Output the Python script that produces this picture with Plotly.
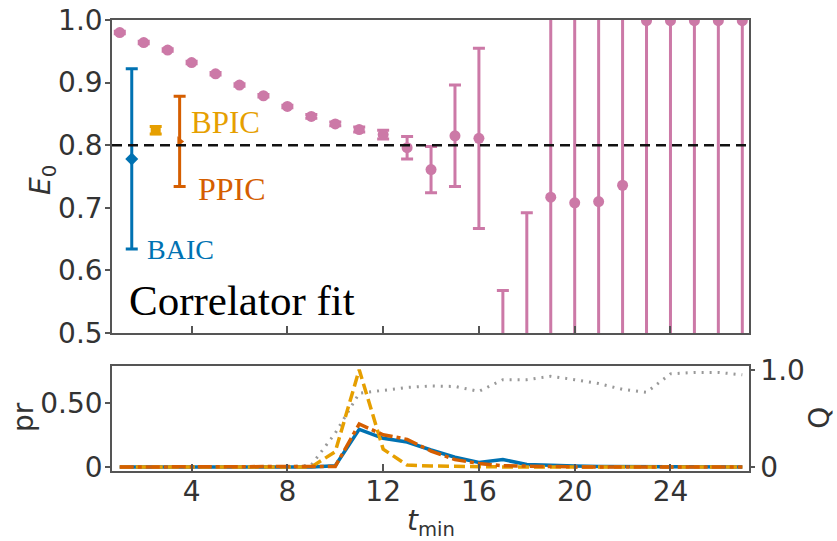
import plotly.graph_objects as go

# ---------------- data ----------------
t_min = list(range(1, 28))
E_corr = [0.980, 0.964, 0.952, 0.932, 0.914, 0.896, 0.879, 0.862, 0.846, 0.834,
          0.825, 0.817, 0.796, 0.761, 0.815, 0.811, 0.400, 0.450, 0.717, 0.708,
          0.710, 0.736, 0.999, 0.999, 0.999, 0.999, 0.999]
E_corr_err = [0.002, 0.002, 0.002, 0.002, 0.002, 0.002, 0.002, 0.002, 0.003, 0.003,
              0.004, 0.007, 0.018, 0.037, 0.081, 0.144, 0.168, 0.242, 0.600, 0.600,
              0.600, 0.600, 0.600, 0.600, 0.600, 0.600, 0.600]

avg_labels = ["BAIC", "BPIC", "PPIC"]
avg_x = [1.5, 2.5, 3.5]
avg_E = [0.778, 0.824, 0.806]
avg_err = [0.144, 0.006, 0.072]

E_true = 0.8

pr_BAIC = [0, 0, 0, 0, 0, 0, 0, 0, 0, 0.010, 0.294, 0.224, 0.195, 0.133, 0.076, 0.035,
           0.058, 0.020, 0.012, 0.008, 0.005, 0.004, 0.003, 0.002, 0.002, 0.001, 0.001]
pr_BPIC = [0, 0, 0, 0, 0, 0, 0, 0, 0, 0.120, 0.760, 0.140, 0.015, 0.008, 0.004, 0.002,
           0.001, 0, 0, 0, 0, 0, 0, 0, 0, 0, 0]
pr_PPIC = [0, 0, 0, 0, 0, 0, 0, 0, 0, 0.005, 0.336, 0.252, 0.216, 0.125, 0.058, 0.028,
           0.010, 0.005, 0.002, 0.001, 0, 0, 0, 0, 0, 0, 0]
Q_vals = [0, 0, 0, 0, 0, 0, 0, 0, 0.02, 0.35, 0.76, 0.79, 0.82, 0.835, 0.83, 0.78,
          0.90, 0.90, 0.935, 0.90, 0.86, 0.80, 0.77, 0.96, 0.975, 0.975, 0.95]

x_ticks = [4, 8, 12, 16, 20, 24]
E_ticks = [0.5, 0.6, 0.7, 0.8, 0.9, 1.0]
pr_ticks = [0, 0.5]
pr_ticktext = ["0", "0.50"]
Q_ticks = [0, 1]
Q_ticktext = ["0", "1.0"]

# ---------------- style ----------------
PINK = "#CC79A7"
BLUE = "#0072B2"
GOLD = "#E69F00"
RED = "#D55E00"
GRAY = "#999999"
AX = "#555555"
TXT = "#333333"
tickfont = dict(family="DejaVu Sans", size=28, color=TXT)
titlefont = dict(family="DejaVu Sans", size=28, color=TXT)
avg_colors = [BLUE, GOLD, RED]
avg_symbols = ["diamond", "square", "triangle-right"]

fig = go.Figure()

# correlator fits
fig.add_trace(go.Scatter(
    x=t_min, y=E_corr, mode="markers",
    marker=dict(color=PINK, size=11, symbol="circle"),
    error_y=dict(type="data", array=E_corr_err, color=PINK, thickness=3, width=6),
    xaxis="x", yaxis="y", showlegend=False))

# model averages
for lab, xx, yy, ee, cc, sym in zip(avg_labels, avg_x, avg_E, avg_err, avg_colors, avg_symbols):
    fig.add_trace(go.Scatter(
        x=[xx], y=[yy], mode="markers", name=lab,
        marker=dict(color=cc, size=10 if sym != "triangle-right" else 9, symbol=sym),
        error_y=dict(type="data", array=[ee], color=cc, thickness=3, width=6),
        xaxis="x", yaxis="y", showlegend=False))

# bottom panel: Q on base axis (right), pr on overlaying axis (left)
fig.add_trace(go.Scatter(x=t_min, y=Q_vals, mode="lines",
                         line=dict(color=GRAY, width=3, dash="2px,6px"),
                         xaxis="x2", yaxis="y2", showlegend=False))
fig.add_trace(go.Scatter(x=t_min, y=pr_BAIC, mode="lines",
                         line=dict(color=BLUE, width=3.5),
                         xaxis="x2", yaxis="y3", showlegend=False))
fig.add_trace(go.Scatter(x=t_min, y=pr_BPIC, mode="lines",
                         line=dict(color=GOLD, width=3.5, dash="11px,5px"),
                         xaxis="x2", yaxis="y3", showlegend=False))
fig.add_trace(go.Scatter(x=t_min, y=pr_PPIC, mode="lines",
                         line=dict(color=RED, width=3.5, dash="14px,4px,4px,4px"),
                         xaxis="x2", yaxis="y3", showlegend=False))

# true energy reference line
fig.add_shape(type="line", xref="x domain", yref="y", x0=0, x1=1, y0=E_true, y1=E_true,
              line=dict(color="#111111", width=2.5, dash="10px,6px"), layer="above")

# labels
ann_font = dict(family="Liberation Serif", size=31)
fig.add_annotation(x=3.90, y=0.836, xref="x", yref="y", text="BPIC", showarrow=False,
                   xanchor="left", yanchor="middle", font=dict(**ann_font, color=GOLD))
fig.add_annotation(x=4.20, y=0.730, xref="x", yref="y", text="PPIC", showarrow=False,
                   xanchor="left", yanchor="middle",
                   font=dict(family="Liberation Serif", size=32, color=RED))
fig.add_annotation(x=2.05, y=0.633, xref="x", yref="y", text="BAIC", showarrow=False,
                   xanchor="left", yanchor="middle",
                   font=dict(family="Liberation Serif", size=28, color=BLUE))
fig.add_annotation(x=1.30, y=0.552, xref="x", yref="y", text="Correlator fit", showarrow=False,
                   xanchor="left", yanchor="middle",
                   font=dict(family="Liberation Serif", size=43, color="black"))

# axis titles
fig.add_annotation(x=-0.110, y=0.645, xref="paper", yref="paper",
                   text="<i>E</i><sub>0</sub>", showarrow=False, textangle=-90,
                   xanchor="center", yanchor="middle", font=titlefont)
fig.add_annotation(x=-0.138, y=0.120, xref="paper", yref="paper",
                   text="pr", showarrow=False, textangle=-90,
                   xanchor="center", yanchor="middle", font=titlefont)
fig.add_annotation(x=1.1115, y=0.118, xref="paper", yref="paper",
                   text="Q", showarrow=False, textangle=-90,
                   xanchor="center", yanchor="middle", font=titlefont)
fig.add_annotation(x=0.5, y=-0.115, xref="paper", yref="paper",
                   text="<i>t</i><sub>min</sub>", showarrow=False,
                   xanchor="center", yanchor="middle", font=titlefont)

x_range = [0.675, 27.28]
common_axis = dict(showline=True, linecolor=AX, linewidth=1.5, showgrid=False,
                   zeroline=False, tickcolor=AX, tickwidth=1.5, tickfont=tickfont,
                   automargin=False)

fig.update_layout(
    width=837, height=541,
    margin=dict(l=112, r=88, t=20, b=70, autoexpand=False),
    paper_bgcolor="white", plot_bgcolor="white",
    xaxis=dict(domain=[0, 1], anchor="y", range=x_range, tickvals=x_ticks,
               showticklabels=False, ticks="inside", ticklen=7, mirror=True, **common_axis),
    yaxis=dict(domain=[0.306, 1], anchor="x", range=[0.5, 1.0], tickvals=E_ticks,
               tickformat=".1f", ticks="outside", ticklen=5, mirror=True,
               ticklabelstandoff=-3, **common_axis),
    xaxis2=dict(domain=[0, 1], anchor="y2", range=x_range, tickvals=x_ticks,
                ticks="inside", ticklen=7, mirror=True, ticklabelstandoff=-5,
                **common_axis),
    yaxis2=dict(domain=[0, 0.2328], anchor="x2", side="right", range=[-0.041, 1.041],
                tickvals=Q_ticks, ticktext=Q_ticktext, ticks="outside", ticklen=4,
                **common_axis),
    yaxis3=dict(overlaying="y2", anchor="x2", side="left", range=[-0.031, 0.789],
                tickvals=pr_ticks, ticktext=pr_ticktext, ticks="outside", ticklen=5,
                ticklabelstandoff=-3, **common_axis),
)

fig.write_html("out.html", config={"displayModeBar": False},
               post_script="document.body.style.margin='0';document.body.style.overflow='hidden';")
